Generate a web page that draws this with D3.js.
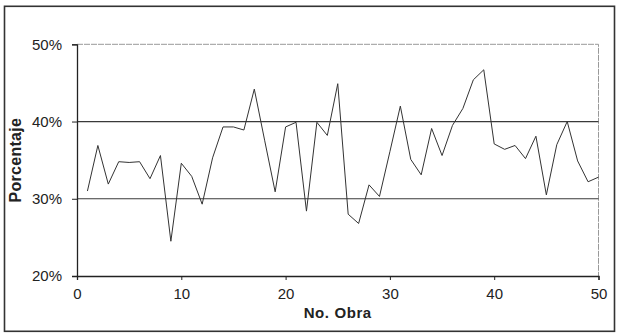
<!DOCTYPE html>
<html>
<head>
<meta charset="utf-8">
<script src="https://cdn.jsdelivr.net/npm/d3@7"></script>
<style>
  html, body { margin: 0; padding: 0; background: #fff; }
  svg { display: block; font-family: "Liberation Sans", Arial, sans-serif; }
</style>
</head>
<body>
<svg id="chart" width="617" height="334"></svg>
<script>
// Obra number (x) and percentage (y) per work
const obras = d3.range(1, 51);
const porcentajes = [
  31.0, 36.9, 31.9, 34.8, 34.7, 34.8, 32.6, 35.6, 24.5, 34.6,
  32.9, 29.3, 35.3, 39.3, 39.3, 38.9, 44.2, 37.5, 30.9, 39.3,
  39.9, 28.4, 39.9, 38.2, 44.9, 28.0, 26.8, 31.8, 30.3, 36.1,
  42.0, 35.1, 33.1, 39.1, 35.6, 39.5, 41.7, 45.4, 46.7, 37.1,
  36.4, 36.9, 35.2, 38.1, 30.5, 37.0, 40.0, 34.9, 32.2, 32.8
];
const xTicks = [0, 10, 20, 30, 40, 50];
const yTicks = [20, 30, 40, 50];
const xTitle = "No. Obra";
const yTitle = "Porcentaje";

const svg = d3.select("#chart");
const plotLeft = 77, plotRight = 598.5, plotTop = 44.3, plotBottom = 276;

const x = d3.scaleLinear().domain([0, 50]).range([plotLeft, plotRight]);
const y = d3.scaleLinear().domain([20, 50]).range([plotBottom, plotTop]);

// outer frame
svg.append("rect")
  .attr("x", 4.5).attr("y", 6.3)
  .attr("width", 610).attr("height", 325)
  .attr("fill", "none").attr("stroke", "#333").attr("stroke-width", 1.6);

// plot-area border (top and right)
svg.append("path")
  .attr("d", `M${x(0)},${y(50)}H${x(50)}V${y(20)}`)
  .attr("fill", "none").attr("stroke", "#999").attr("stroke-width", 1)
  .attr("stroke-dasharray", "6,1");

// horizontal gridlines
svg.append("g").selectAll("line")
  .data(yTicks.filter(d => d > 20 && d < 50))
  .join("line")
  .attr("x1", x(0)).attr("x2", x(50))
  .attr("y1", d => y(d)).attr("y2", d => y(d))
  .attr("stroke", "#3a3a3a").attr("stroke-width", 1.2);

// y axis
const yAxis = svg.append("g")
  .attr("transform", `translate(${x(0)},0)`)
  .call(d3.axisLeft(y).tickValues(yTicks).tickFormat(d => d + "%").tickSize(5).tickPadding(10));
yAxis.select(".domain").attr("stroke", "#222").attr("stroke-width", 1.3);
yAxis.selectAll(".tick line").attr("stroke", "#222");
yAxis.selectAll(".tick text")
  .attr("font-size", 15).attr("fill", "#222")
  .attr("font-family", "'Liberation Sans', Arial, sans-serif");

// x axis
const xAxis = svg.append("g")
  .attr("transform", `translate(0,${y(20)})`)
  .call(d3.axisBottom(x).tickValues(xTicks).tickSize(4).tickPadding(8));
xAxis.select(".domain").attr("stroke", "#222").attr("stroke-width", 1.3);
xAxis.selectAll(".tick line").attr("stroke", "#222");
xAxis.selectAll(".tick text")
  .attr("font-size", 15).attr("fill", "#222")
  .attr("font-family", "'Liberation Sans', Arial, sans-serif");

// axis titles
svg.append("text")
  .attr("x", (plotLeft + plotRight) / 2).attr("y", 318)
  .attr("text-anchor", "middle")
  .attr("font-size", 15).attr("font-weight", "bold")
  .attr("letter-spacing", "0.6px").attr("fill", "#222")
  .text(xTitle);

svg.append("text")
  .attr("transform", `translate(21,${(plotTop + plotBottom) / 2}) rotate(-90)`)
  .attr("text-anchor", "middle")
  .attr("font-size", 16).attr("font-weight", "bold")
  .attr("letter-spacing", "0.3px").attr("fill", "#222")
  .text(yTitle);

// data line
const line = d3.line()
  .x((d, i) => x(obras[i]))
  .y(d => y(d));
svg.append("path")
  .datum(porcentajes)
  .attr("d", line)
  .attr("fill", "none")
  .attr("stroke", "#333")
  .attr("stroke-width", 1)
  .attr("stroke-linejoin", "miter");
</script>
</body>
</html>
